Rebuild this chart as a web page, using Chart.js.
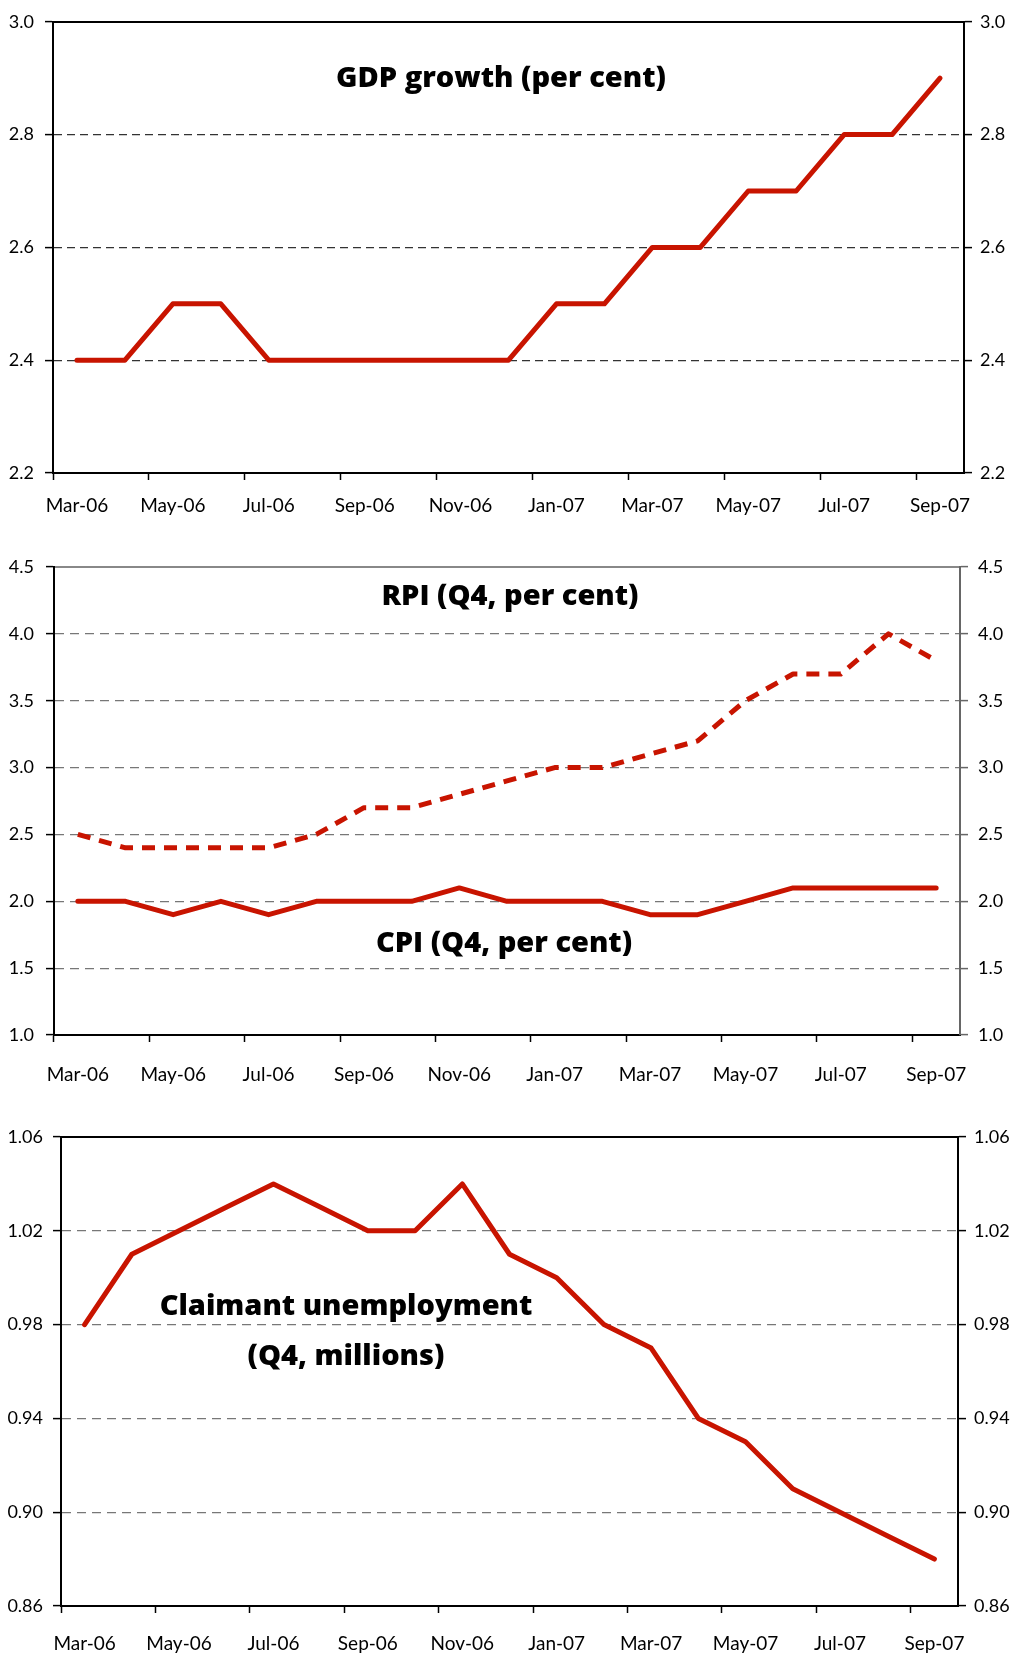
<!DOCTYPE html>
<html>
<head>
<meta charset="utf-8">
<script src="https://cdn.jsdelivr.net/npm/chart.js@4"></script>
<style>
  body { margin: 0; background: #fff; }
  #page { position: relative; width: 1011px; height: 1657px; overflow: hidden; }
  .panel { position: absolute; left: 0; width: 1011px; }
  .label {
    position: absolute;
    transform: translate(-50%, -50%);
    font-family: "Open Sans", Lato, sans-serif;
    font-weight: 800;
    font-size: 29px;
    line-height: 34px;
    color: #000;
    white-space: nowrap;
    text-align: center;
  }
</style>
</head>
<body>
<div id="page">
  <div class="panel" style="top:0;height:523px"><canvas id="gdp-chart"></canvas></div>
  <div class="panel" style="top:523px;height:562px"><canvas id="inflation-chart"></canvas></div>
  <div class="panel" style="top:1085px;height:572px"><canvas id="claimant-chart"></canvas></div>

  <div class="label" style="left:501px;top:76px">GDP growth (per cent)</div>
  <div class="label" style="left:510px;top:594px">RPI (Q4, per cent)</div>
  <div class="label" style="left:504px;top:941px">CPI (Q4, per cent)</div>
  <div class="label" style="left:346px;top:1329px;line-height:50px">Claimant unemployment<br>(Q4, millions)</div>
</div>

<script>
const months = [
  "Mar-06", "Apr-06", "May-06", "Jun-06", "Jul-06", "Aug-06", "Sep-06", "Oct-06",
  "Nov-06", "Dec-06", "Jan-07", "Feb-07", "Mar-07", "Apr-07", "May-07", "Jun-07",
  "Jul-07", "Aug-07", "Sep-07",
];

const gdpGrowth = [2.4, 2.4, 2.5, 2.5, 2.4, 2.4, 2.4, 2.4, 2.4, 2.4, 2.5, 2.5, 2.6, 2.6, 2.7, 2.7, 2.8, 2.8, 2.9];
const rpiInflation = [2.5, 2.4, 2.4, 2.4, 2.4, 2.5, 2.7, 2.7, 2.8, 2.9, 3.0, 3.0, 3.1, 3.2, 3.5, 3.7, 3.7, 4.0, 3.8];
const cpiInflation = [2.0, 2.0, 1.9, 2.0, 1.9, 2.0, 2.0, 2.0, 2.1, 2.0, 2.0, 2.0, 1.9, 1.9, 2.0, 2.1, 2.1, 2.1, 2.1];
const claimantCount = [0.98, 1.01, 1.02, 1.03, 1.04, 1.03, 1.02, 1.02, 1.04, 1.01, 1.0, 0.98, 0.97, 0.94, 0.93, 0.91, 0.9, 0.89, 0.88];

const gdpTicks = [2.2, 2.4, 2.6, 2.8, 3.0];
const inflationTicks = [1.0, 1.5, 2.0, 2.5, 3.0, 3.5, 4.0, 4.5];
const claimantTicks = [0.86, 0.9, 0.94, 0.98, 1.02, 1.06];

const RED = "#c81400";

Chart.defaults.font.family = "Lato, 'Open Sans', sans-serif";
Chart.defaults.font.size = 19;
Chart.defaults.color = "#000";

function yScale(tickValues, decimals, opts) {
  const min = tickValues[0];
  const max = tickValues[tickValues.length - 1];
  const right = opts.side === "right";
  return {
    type: "linear",
    position: opts.side,
    min,
    max,
    afterBuildTicks: (scale) => {
      scale.ticks = tickValues.map((value) => ({ value }));
    },
    afterFit: (scale) => {
      scale.width = opts.width;
    },
    ticks: {
      padding: opts.padding,
      font: { size: 18 },
      callback: (value) => Number(value).toFixed(decimals),
    },
    grid: {
      drawOnChartArea: !right,
      color: (ctx) => {
        const v = ctx.tick && ctx.tick.value;
        return v === min || v === max ? "rgba(0,0,0,0)" : opts.gridColor;
      },
      lineWidth: 1.2,
      tickColor: opts.borderColor,
      tickBorderDash: [],
      tickWidth: 1.5,
      tickLength: 8,
    },
    // in v4 border.dash is what dashes the grid lines
    border: { color: opts.borderColor, width: 2, dash: opts.gridDash },
  };
}

function xScale(opts) {
  return {
    type: "category",
    offset: true,
    afterFit: (scale) => {
      scale.height = opts.height;
    },
    ticks: {
      autoSkip: false,
      maxRotation: 0,
      padding: opts.padding,
      callback: function (value, index) {
        return index % 2 === 0 ? this.getLabelForValue(value) : "";
      },
    },
    grid: {
      offset: true,
      drawOnChartArea: false,
      tickLength: 7,
      tickWidth: 1.5,
      tickColor: (ctx) => (ctx.index % 2 === 0 ? "#000" : "rgba(0,0,0,0)"),
    },
    border: { color: "#000", width: 2 },
  };
}

function topBorder(color) {
  return {
    type: "category",
    position: "top",
    offset: true,
    ticks: { display: false },
    grid: { display: false, drawTicks: false },
    border: { color, width: 2 },
  };
}

function lineDataset(label, data, dashed) {
  return {
    label,
    data,
    borderColor: RED,
    backgroundColor: RED,
    borderWidth: 5,
    borderDash: dashed ? [13, 9] : [],
    borderCapStyle: dashed ? "butt" : "round",
    borderJoinStyle: "round",
    pointRadius: 0,
    tension: 0,
    fill: false,
  };
}

function makeChart(id, datasets, scales, padTop) {
  const ctx = document.getElementById(id).getContext("2d");
  return new Chart(ctx, {
    type: "line",
    data: { labels: months, datasets },
    options: {
      responsive: true,
      maintainAspectRatio: false,
      animation: false,
      layout: { padding: { top: padTop, left: 0, right: 0, bottom: 0 } },
      plugins: { legend: { display: false }, tooltip: { enabled: false } },
      scales,
    },
  });
}

makeChart(
  "gdp-chart",
  [lineDataset("GDP growth", gdpGrowth, false)],
  {
    x: xScale({ height: 50, padding: 14 }),
    xTop: topBorder("#000"),
    y: yScale(gdpTicks, 1, { side: "left", width: 53, padding: 11, gridColor: "#333", gridDash: [8, 5], borderColor: "#000" }),
    y2: yScale(gdpTicks, 1, { side: "right", width: 47, padding: 8, gridColor: "#333", gridDash: [8, 5], borderColor: "#000" }),
  },
  17
);

makeChart(
  "inflation-chart",
  [
    lineDataset("RPI", rpiInflation, true),
    lineDataset("CPI", cpiInflation, false),
  ],
  {
    x: xScale({ height: 50, padding: 21 }),
    xTop: topBorder("#888"),
    y: yScale(inflationTicks, 1, { side: "left", width: 54, padding: 12, gridColor: "#777", gridDash: [9, 6], borderColor: "#000" }),
    y2: yScale(inflationTicks, 1, { side: "right", width: 51, padding: 10, gridColor: "#777", gridDash: [9, 6], borderColor: "#666" }),
  },
  44
);

makeChart(
  "claimant-chart",
  [lineDataset("Claimant unemployment", claimantCount, false)],
  {
    x: xScale({ height: 51, padding: 19 }),
    xTop: topBorder("#000"),
    y: yScale(claimantTicks, 2, { side: "left", width: 61, padding: 10, gridColor: "#777", gridDash: [9, 6], borderColor: "#000" }),
    y2: yScale(claimantTicks, 2, { side: "right", width: 53, padding: 8, gridColor: "#777", gridDash: [9, 6], borderColor: "#000" }),
  },
  52
);
</script>
</body>
</html>
